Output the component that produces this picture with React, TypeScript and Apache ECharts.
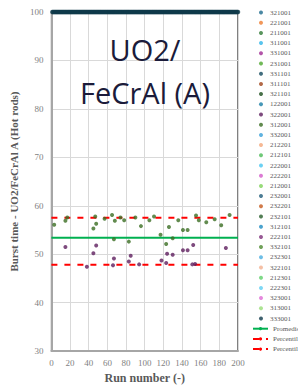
import React, { useEffect, useRef } from "react";
import * as echarts from "echarts";

const seriesNames = [
  "321001", "221001", "211001", "311001", "331001", "231001", "331101", "311101",
  "321101", "122001", "322001", "312001", "332001", "212201", "212101", "222001",
  "222201", "212001", "232001", "232201", "232101", "312101", "222101", "332101",
  "232301", "322101", "212301", "222301", "323001", "313001", "333001",
];
const seriesColors = [
  "#1d6a8c", "#ed7d31", "#2f7a34", "#2fb5e8", "#a02b93", "#4ea72e", "#134a5e", "#a0451a",
  "#1b4d1b", "#1a7ea6", "#5e1e5e", "#3b6e23", "#3aa0d8", "#f4a77a", "#4cbc57", "#47c5f0",
  "#d35bc9", "#7fd25a", "#215c7a", "#c65a1e", "#275e2a", "#1f8cc2", "#7e2f7a", "#4c8a30",
  "#4aaee0", "#f3b08f", "#5fd06a", "#5fcef3", "#de6cd4", "#98dd78", "#0f3a4a",
];
const lineNames = ["Promedio", "Percentil 5", "Percentil 95"];

// runs where the rod did not burst (burst time capped at 100)
const noBurstRuns = Array.from({ length: 200 }, (_, i) => i + 1);
const noBurstValue = 100;

const greenRuns = [3, 15, 17, 45, 47, 48, 57, 65, 67, 68, 74, 78, 83, 90, 96, 105, 110, 117, 123, 126, 130, 136, 141, 146, 155, 158, 166, 175, 182, 191];
const greenVals = [56.1, 56.9, 57.6, 55.3, 57.8, 56.3, 57.3, 58.1, 53.1, 56.9, 57.6, 57.0, 52.6, 57.6, 55.8, 57.0, 57.8, 54.0, 52.1, 55.6, 53.3, 57.0, 55.0, 55.0, 58.0, 57.0, 56.6, 57.2, 56.0, 58.1];

const purpleRuns = [15, 38, 45, 48, 66, 67, 83, 85, 94, 118, 123, 124, 130, 141, 146, 152, 151, 154, 187];
const purpleVals = [51.5, 47.4, 50.2, 51.8, 47.7, 49.1, 48.5, 49.7, 47.9, 48.7, 48.2, 50.1, 49.9, 50.8, 50.8, 51.9, 47.9, 48.0, 51.3];

const meanValue = 53.4;
const p5Value = 47.8;
const p95Value = 57.55;
const xRange = [0, 200];

export default function App() {
  const ref = useRef<HTMLDivElement>(null);
  useEffect(() => {
    const chart = echarts.init(ref.current!, null, { renderer: "svg" });
    const scatterSeries = seriesNames.map((name, i) => {
      let data: number[][] = [];
      if (name === "312001") data = greenRuns.map((r, k) => [r, greenVals[k]]);
      if (name === "322001") data = purpleRuns.map((r, k) => [r, purpleVals[k]]);
      if (name === "333001") data = noBurstRuns.map((r) => [r, noBurstValue]);
      return {
        name,
        type: "scatter",
        data,
        symbol: "circle",
        symbolSize: name === "333001" ? 4.5 : 4,
        itemStyle: { color: seriesColors[i] },
        z: name === "333001" ? 3 : 4,
      };
    });
    const lineSeries = [
      { name: lineNames[0], value: meanValue, color: "#00b050", type: "solid" },
      { name: lineNames[1], value: p5Value, color: "#ff0000", type: [6, 7] },
      { name: lineNames[2], value: p95Value, color: "#ff0000", type: [6, 7] },
    ].map((l) => ({
      name: l.name,
      type: "line",
      data: xRange.map((x) => [x, l.value]),
      showSymbol: false,
      symbol: "none",
      lineStyle: { color: l.color, width: 2, type: l.type },
      itemStyle: { color: l.color },
      z: 2,
    }));
    const serif = "'Liberation Serif', 'DejaVu Serif', serif";
    const legendText = { fontFamily: serif, fontSize: 7, lineHeight: 9, color: "#595959" };
    const legendTop = 3;
    const legendStep = 10.2;
    chart.setOption({
      animation: false,
      title: {
        text: "UO2/\nFeCrAl (A)",
        left: 140,
        top: 23,
        textAlign: "center",
        textStyle: {
          fontFamily: "'Open Sans', sans-serif",
          fontWeight: "normal",
          fontSize: 29,
          lineHeight: 43,
          color: "#1b1b3a",
        },
      },
      grid: {
        left: 43,
        right: 60,
        top: 12,
        bottom: 34,
        show: true,
        borderColor: "#000",
        borderWidth: 1,
      },
      legend: [
        {
          orient: "vertical",
          left: 254,
          top: legendTop,
          itemWidth: 8,
          itemHeight: 4,
          itemGap: legendStep - 9,
          data: seriesNames,
          textStyle: legendText,
        },
        {
          orient: "vertical",
          left: 247,
          top: legendTop + seriesNames.length * legendStep,
          itemWidth: 15,
          itemHeight: 4,
          itemGap: legendStep - 9,
          data: lineNames,
          textStyle: legendText,
        },
      ],
      xAxis: {
        type: "value",
        min: 0,
        max: 200,
        interval: 20,
        name: "Run number (-)",
        nameLocation: "middle",
        nameGap: 19,
        nameTextStyle: { fontFamily: serif, fontWeight: "bold", fontSize: 12, color: "#595959" },
        axisLine: { show: true, lineStyle: { color: "#a6a6a6", width: 2 } },
        axisTick: { show: false },
        axisLabel: { fontFamily: serif, fontSize: 9, color: "#7f7f7f", margin: 7 },
        splitLine: { show: true, lineStyle: { color: "#d9d9d9", width: 1 } },
      },
      yAxis: {
        type: "value",
        min: 30,
        max: 100,
        interval: 10,
        name: "Burst time - UO2/FeCrAl A (Hot rods)",
        nameLocation: "middle",
        nameGap: 24,
        nameTextStyle: { fontFamily: serif, fontWeight: "bold", fontSize: 11, color: "#595959" },
        axisLine: { show: true, lineStyle: { color: "#a6a6a6", width: 2 } },
        axisTick: { show: false },
        axisLabel: { fontFamily: serif, fontSize: 9, color: "#7f7f7f", margin: 8 },
        splitLine: { show: true, lineStyle: { color: "#d9d9d9", width: 1 } },
      },
      series: [...scatterSeries, ...lineSeries],
    });
    return () => chart.dispose();
  }, []);
  return (
    <div
      ref={ref}
      style={{ position: "absolute", left: 0, top: 0, width: 298, height: 389 }}
    />
  );
}
